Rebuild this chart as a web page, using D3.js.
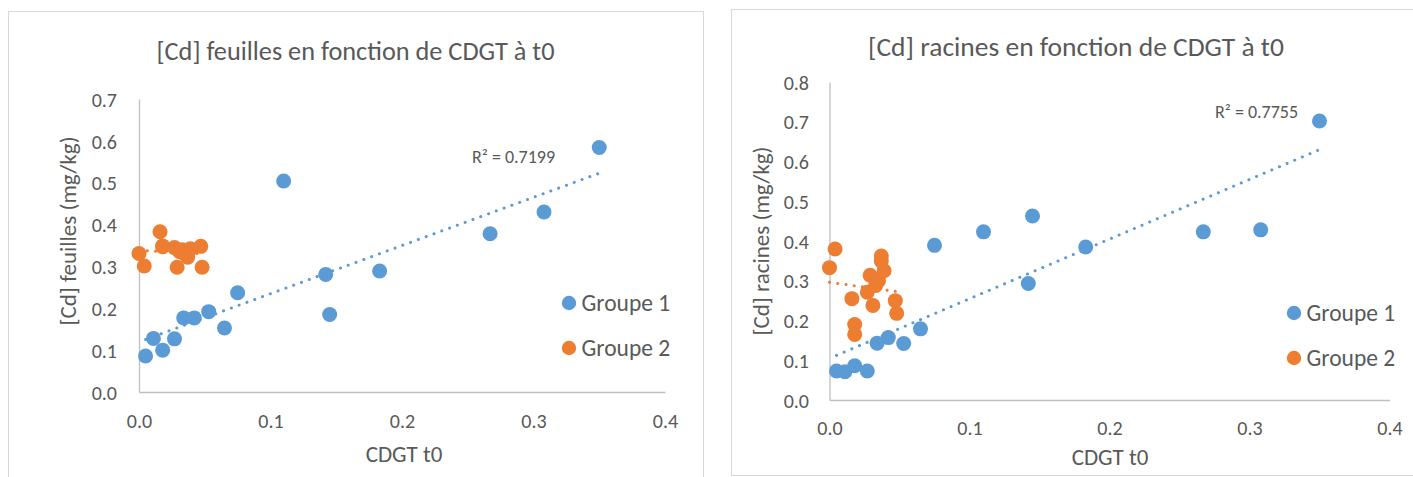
<!DOCTYPE html>
<html>
<head>
<meta charset="utf-8">
<script src="https://cdn.jsdelivr.net/npm/d3@7"></script>
<style>
  html, body { margin: 0; padding: 0; background: #ffffff; }
  svg { display: block; }
  text { font-family: Carlito, Calibri, Lato, "Open Sans", sans-serif; fill: #595959; }
</style>
</head>
<body>
<svg id="chart" width="1413" height="477"></svg>
<script>
// ---------- DATA ----------
const seriesNames = ["Groupe 1", "Groupe 2"];
const chartTitles = ["[Cd] feuilles en fonction de CDGT à t0", "[Cd] racines en fonction de CDGT à t0"];
const yAxisTitles = ["[Cd] feuilles (mg/kg)", "[Cd] racines (mg/kg)"];
const xAxisTitle = "CDGT t0";
const r2Labels = ["R² = 0.7199", "R² = 0.7755"];

// CDGT t0 values (x) — Groupe 1
const xGroupe1 = [0.005, 0.011, 0.018, 0.027, 0.034, 0.042, 0.053, 0.065, 0.075, 0.110, 0.142, 0.145, 0.183, 0.267, 0.308, 0.350];
// [Cd] feuilles — Groupe 1
const feuillesGroupe1 = [0.086, 0.128, 0.100, 0.127, 0.177, 0.177, 0.192, 0.153, 0.237, 0.504, 0.281, 0.185, 0.289, 0.378, 0.430, 0.584];
// [Cd] racines — Groupe 1
const racinesGroupe1 = [0.073, 0.071, 0.086, 0.073, 0.143, 0.157, 0.142, 0.179, 0.389, 0.423, 0.293, 0.463, 0.385, 0.423, 0.428, 0.702];

// CDGT t0 values (x) — Groupe 2
const xGroupe2 = [0.000, 0.004, 0.016, 0.018, 0.018, 0.027, 0.029, 0.031, 0.033, 0.035, 0.037, 0.037, 0.039, 0.047, 0.048];
// [Cd] feuilles — Groupe 2
const feuillesGroupe2 = [0.331, 0.301, 0.383, 0.349, 0.347, 0.345, 0.298, 0.335, 0.340, 0.330, 0.322, 0.336, 0.342, 0.348, 0.298];
// [Cd] racines — Groupe 2
const racinesGroupe2 = [0.333, 0.380, 0.255, 0.190, 0.165, 0.271, 0.314, 0.238, 0.288, 0.300, 0.362, 0.350, 0.325, 0.250, 0.218];

const xTicks = [0, 0.1, 0.2, 0.3, 0.4];
const yTicksFeuilles = [0, 0.1, 0.2, 0.3, 0.4, 0.5, 0.6, 0.7];
const yTicksRacines = [0, 0.1, 0.2, 0.3, 0.4, 0.5, 0.6, 0.7, 0.8];

// ---------- STYLE / LAYOUT ----------
const colors = ["#5B9BD5", "#ED7D31"];
const textColor = "#595959";
const axisColor = "#BFBFBF";
const borderColor = "#D9D9D9";

const panels = [
  {
    box: {x: 8.5, y: 11.5, w: 695, h: 480},
    xRange: [139, 665], yRange: [392, 99], yDomain: [0, 0.7], yTicks: yTicksFeuilles,
    title: chartTitles[0], titleX: 355.5, titleY: 59.5, titleSize: 26.3,
    yTitle: yAxisTitles[0], yTitleX: 68, yTitleY: 231,
    xTitleX: 404, xTitleY: 462, xTickY: 428, yTickX: 117,
    legendX: 569, legendY: [303, 348],
    r2: r2Labels[0], r2X: 472, r2Y: 157,
    g1: feuillesGroupe1, g2: feuillesGroupe2
  },
  {
    box: {x: 731.5, y: 9.5, w: 700, h: 466},
    xRange: [829.5, 1389.5], yRange: [400, 82], yDomain: [0, 0.8], yTicks: yTicksRacines,
    title: chartTitles[1], titleX: 1076, titleY: 56, titleSize: 27.5,
    yTitle: yAxisTitles[1], yTitleX: 761, yTitleY: 241,
    xTitleX: 1110, xTitleY: 465, xTickY: 435, yTickX: 809,
    legendX: 1294, legendY: [313, 358],
    r2: r2Labels[1], r2X: 1215, r2Y: 112,
    g1: racinesGroupe1, g2: racinesGroupe2
  }
];

const svg = d3.select("#chart");
svg.append("rect").attr("width", 1413).attr("height", 477).attr("fill", "#fff");

function linReg(xs, ys) {
  const n = xs.length;
  const mx = d3.mean(xs), my = d3.mean(ys);
  let sxy = 0, sxx = 0;
  for (let i = 0; i < n; i++) { sxy += (xs[i] - mx) * (ys[i] - my); sxx += (xs[i] - mx) ** 2; }
  const b = sxy / sxx;
  return {b, a: my - b * mx};
}

panels.forEach(p => {
  const g = svg.append("g");
  g.append("rect")
    .attr("x", p.box.x).attr("y", p.box.y).attr("width", p.box.w).attr("height", p.box.h)
    .attr("fill", "#fff").attr("stroke", borderColor).attr("stroke-width", 1);

  const x = d3.scaleLinear().domain([0, 0.4]).range(p.xRange);
  const y = d3.scaleLinear().domain(p.yDomain).range(p.yRange);

  // Title
  g.append("text").attr("x", p.titleX).attr("y", p.titleY)
    .attr("text-anchor", "middle").style("font-size", p.titleSize + "px").text(p.title);

  // Axes
  const xAxis = d3.axisBottom(x).tickValues(xTicks).tickFormat(d3.format(".1f"))
    .tickSizeInner(0).tickSizeOuter(0).tickPadding(0);
  const gx = g.append("g").attr("transform", `translate(0,${p.yRange[0]})`).call(xAxis);
  gx.select(".domain").attr("stroke", axisColor).attr("stroke-width", 1.3);
  gx.selectAll(".tick text")
    .attr("y", p.xTickY - p.yRange[0]).attr("dy", null)
    .style("font-size", "20px").attr("fill", textColor);
  gx.attr("font-family", null).attr("font-size", null);

  const yAxis = d3.axisLeft(y).tickValues(p.yTicks).tickFormat(d3.format(".1f"))
    .tickSizeInner(0).tickSizeOuter(0).tickPadding(0);
  const gy = g.append("g").attr("transform", `translate(${p.xRange[0]},0)`).call(yAxis);
  gy.select(".domain").attr("stroke", axisColor).attr("stroke-width", 1.3);
  gy.selectAll(".tick text")
    .attr("x", p.yTickX - p.xRange[0]).attr("dy", "0.36em")
    .style("font-size", "20px").attr("fill", textColor);
  gy.attr("font-family", null).attr("font-size", null);

  // Axis titles
  g.append("text").attr("x", p.xTitleX).attr("y", p.xTitleY)
    .attr("text-anchor", "middle").style("font-size", "23px").text(xAxisTitle);
  g.append("text")
    .attr("transform", `translate(${p.yTitleX},${p.yTitleY}) rotate(-90)`)
    .attr("text-anchor", "middle").attr("dy", "0.36em")
    .style("font-size", "23px").text(p.yTitle);

  // Trendlines (linear, over each series' x-range)
  const line = d3.line().x(d => x(d[0])).y(d => y(d[1]));
  [[xGroupe1, p.g1], [xGroupe2, p.g2]].forEach(([xs, ys], i) => {
    const r = linReg(xs, ys);
    const x0 = d3.min(xs), x1 = d3.max(xs);
    g.append("path")
      .attr("d", line([[x0, r.a + r.b * x0], [x1, r.a + r.b * x1]]))
      .attr("fill", "none").attr("stroke", colors[i]).attr("stroke-width", 3)
      .attr("stroke-linecap", "round").attr("stroke-dasharray", "0.1 8.2");
  });

  // Markers
  [[xGroupe1, p.g1], [xGroupe2, p.g2]].forEach(([xs, ys], i) => {
    g.append("g").selectAll("circle").data(xs.map((v, k) => [v, ys[k]]))
      .join("circle")
      .attr("cx", d => x(d[0])).attr("cy", d => y(d[1])).attr("r", 7.5)
      .attr("fill", colors[i]);
  });

  // R² label
  g.append("text").attr("x", p.r2X).attr("y", p.r2Y).attr("dy", "0.36em")
    .style("font-size", "18px").text(p.r2);

  // Legend
  seriesNames.forEach((name, i) => {
    g.append("circle").attr("cx", p.legendX).attr("cy", p.legendY[i]).attr("r", 7.2).attr("fill", colors[i]);
    g.append("text").attr("x", p.legendX + 12.5).attr("y", p.legendY[i]).attr("dy", "0.36em")
      .style("font-size", "23.5px").text(name);
  });
});
</script>
</body>
</html>
